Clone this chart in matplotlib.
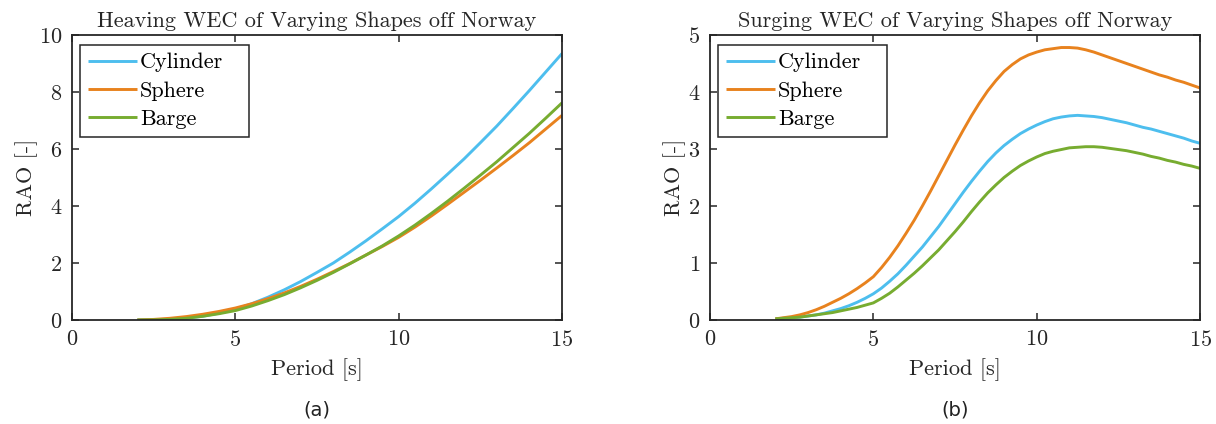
import matplotlib
matplotlib.use("Agg")
import matplotlib.pyplot as plt

period_heave = [2, 2.5, 3, 3.5, 4, 4.5, 5, 5.5, 6, 6.5, 7, 7.5, 8, 8.5, 9, 9.5,
                10, 10.5, 11, 11.5, 12, 12.5, 13, 13.5, 14, 14.5, 15]

heave_cylinder = [0, 0.01, 0.03, 0.07, 0.13, 0.24, 0.38, 0.57, 0.8, 1.06, 1.35, 1.67, 2.0, 2.38,
                  2.78, 3.2, 3.63, 4.1, 4.6, 5.12, 5.65, 6.22, 6.8, 7.42, 8.05, 8.7, 9.35]
heave_sphere = [0, 0.02, 0.06, 0.12, 0.2, 0.3, 0.42, 0.57, 0.75, 0.95, 1.18, 1.43, 1.7, 1.98,
                2.28, 2.58, 2.9, 3.26, 3.65, 4.06, 4.48, 4.9, 5.33, 5.77, 6.22, 6.7, 7.18]
heave_barge = [0, 0.005, 0.02, 0.06, 0.13, 0.22, 0.33, 0.49, 0.68, 0.89, 1.13, 1.39, 1.67, 1.97,
               2.28, 2.6, 2.95, 3.33, 3.74, 4.17, 4.62, 5.08, 5.55, 6.05, 6.55, 7.08, 7.62]

period_surge = [2, 2.25, 2.5, 2.75, 3, 3.25, 3.5, 3.75, 4, 4.25, 4.5, 4.75, 5, 5.25, 5.5, 5.75,
                6, 6.25, 6.5, 6.75, 7, 7.25, 7.5, 7.75, 8, 8.25, 8.5, 8.75, 9, 9.25, 9.5, 9.75,
                10, 10.25, 10.5, 10.75, 11, 11.25, 11.5, 11.75, 12, 12.25, 12.5, 12.75, 13,
                13.25, 13.5, 13.75, 14, 14.25, 14.5, 14.75, 15]

surge_cylinder = [0.02, 0.03, 0.04, 0.05, 0.07, 0.09, 0.12, 0.16, 0.2, 0.25, 0.31, 0.38, 0.46, 0.56,
                  0.68, 0.81, 0.96, 1.12, 1.28, 1.46, 1.64, 1.84, 2.04, 2.24, 2.43, 2.61, 2.78,
                  2.93, 3.06, 3.17, 3.27, 3.35, 3.42, 3.48, 3.53, 3.56, 3.58, 3.59, 3.58, 3.57,
                  3.55, 3.52, 3.49, 3.46, 3.42, 3.38, 3.35, 3.31, 3.27, 3.23, 3.19, 3.14, 3.1]
surge_sphere = [0.02, 0.04, 0.06, 0.09, 0.13, 0.18, 0.24, 0.31, 0.38, 0.46, 0.55, 0.65, 0.76, 0.92,
                1.1, 1.3, 1.52, 1.75, 2.0, 2.26, 2.53, 2.8, 3.07, 3.33, 3.58, 3.81, 4.02, 4.2,
                4.36, 4.48, 4.58, 4.65, 4.7, 4.74, 4.76, 4.78, 4.78, 4.77, 4.74, 4.7, 4.65,
                4.6, 4.55, 4.5, 4.45, 4.4, 4.35, 4.3, 4.26, 4.21, 4.17, 4.12, 4.07]
surge_barge = [0.02, 0.03, 0.04, 0.05, 0.07, 0.09, 0.11, 0.13, 0.16, 0.19, 0.22, 0.26, 0.3, 0.38,
               0.47, 0.58, 0.7, 0.82, 0.95, 1.09, 1.23, 1.39, 1.55, 1.72, 1.9, 2.07, 2.23, 2.37,
               2.5, 2.61, 2.71, 2.79, 2.86, 2.92, 2.96, 2.99, 3.02, 3.03, 3.04, 3.04, 3.03,
               3.01, 2.99, 2.97, 2.94, 2.91, 2.87, 2.84, 2.8, 2.77, 2.73, 2.7, 2.66]

shapes = ["Cylinder", "Sphere", "Barge"]
colors = ["#4DBEEE", "#E8821E", "#77AC30"]

plt.rcParams['font.family'] = 'cmr10'
plt.rcParams['axes.formatter.use_mathtext'] = True

fig = plt.figure(figsize=(12.16, 4.24), dpi=100)
ax1 = fig.add_axes([0.0592, 0.2453, 0.4030, 0.6722])
ax2 = fig.add_axes([0.5839, 0.2453, 0.4030, 0.6722])

panels = [
    (ax1, period_heave, [heave_cylinder, heave_sphere, heave_barge],
     "Heaving WEC of Varying Shapes off Norway", [0, 10], [0, 2, 4, 6, 8, 10], "(a)"),
    (ax2, period_surge, [surge_cylinder, surge_sphere, surge_barge],
     "Surging WEC of Varying Shapes off Norway", [0, 5], [0, 1, 2, 3, 4, 5], "(b)"),
]

ink = '#262626'
for ax, x, series, title, ylim, yticks, tag in panels:
    for vals, name, c in zip(series, shapes, colors):
        ax.plot(x, vals, color=c, lw=2.1, label=name, solid_capstyle='butt')
    ax.set_xlim(0, 15)
    ax.set_ylim(*ylim)
    ax.set_xticks([0, 5, 10, 15])
    ax.set_yticks(yticks)
    ax.tick_params(direction='in', top=True, right=True, length=5, width=1.1,
                   labelsize=16, colors=ink, pad=7)
    for s in ax.spines.values():
        s.set_linewidth(1.3)
        s.set_color(ink)
    ax.set_title(title, fontsize=16, pad=6, color=ink)
    ax.set_xlabel("Period [s]", fontsize=16, color=ink, labelpad=6)
    ax.set_ylabel("RAO [-]", fontsize=16, color=ink, labelpad=1)
    # MATLAB-style legend: box wider than its entries
    leg = ax.legend(loc='upper left', bbox_to_anchor=(0.0163, 0.0, 0.345, 0.965),
                    mode='expand', fontsize=16, fancybox=False, framealpha=1,
                    edgecolor=ink, handlelength=2.2, handletextpad=0.15,
                    borderpad=0.35, labelspacing=0.4, borderaxespad=0)
    leg.get_frame().set_linewidth(1.1)
    pos = ax.get_position()
    fig.text((pos.x0 + pos.x1) / 2, 0.033, tag, ha='center', va='center',
             fontsize=14, family='DejaVu Sans', color='#222222')

plt.savefig('out.png', dpi=100)
